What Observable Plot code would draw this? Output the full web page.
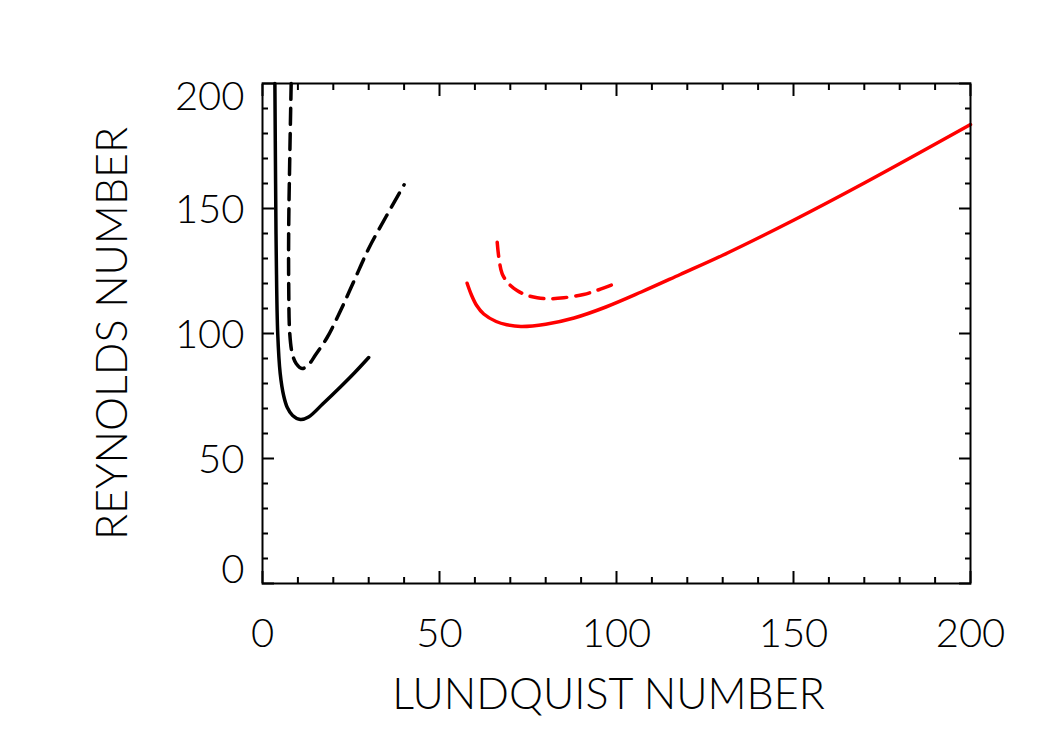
<!DOCTYPE html>
<html>
<head>
<meta charset="utf-8">
<script src="https://cdn.jsdelivr.net/npm/d3@7"></script>
<script src="https://cdn.jsdelivr.net/npm/@observablehq/plot@0.6"></script>
<style>
  html, body { margin: 0; padding: 0; background: #fff; }
  #chart svg { display: block; }
</style>
</head>
<body>
<div id="chart"></div>
<script>
// ---- data ----
const blackSolidX = [3.5, 3.7, 3.9, 4.3, 5.0, 6.0, 7.0, 8.5, 10.7, 13.0, 17.0, 22.0, 26.0, 30.0];
const blackSolidY = [200, 160, 130, 100, 84, 75, 70.4, 67.2, 65.6, 66.6, 71.8, 78.6, 84.3, 90.4];

const blackDashX = [8.1, 7.7, 7.4, 7.4, 7.7, 8.4, 9.5, 11.2, 13.0, 15.0, 18.3, 22.0, 26.0, 30.0, 35.0, 40.0];
const blackDashY = [200, 170, 142, 120, 100, 92, 88, 86, 87.5, 91.5, 98.5, 109, 121.5, 134, 147, 159.5];

const redSolidX = [57.8, 59.0, 60.5, 62.5, 66.0, 69.0, 73.0, 80.0, 88.0, 97.0, 107.0, 118.0, 130.0, 150.0, 170.0, 200.0];
const redSolidY = [120.1, 115.5, 111.2, 107.8, 104.8, 103.5, 102.8, 103.7, 106.2, 110.6, 116.6, 123.6, 131.3, 145.3, 160.2, 183.6];

const redDashX = [66.3, 66.8, 67.7, 69.5, 71.9, 74.5, 77.6, 81.0, 85.1, 90.7, 95.0, 98.8];
const redDashY = [136.5, 130, 123.9, 120, 117.2, 115.4, 114.3, 113.9, 114.3, 115.6, 117.5, 119.5];

const xMajor = [0, 50, 100, 150, 200];
const xMinor = [10, 20, 30, 40, 60, 70, 80, 90, 110, 120, 130, 140, 160, 170, 180, 190];
const yMajor = [0, 50, 100, 150, 200];
const yMinor = [10, 20, 30, 40, 60, 70, 80, 90, 110, 120, 130, 140, 160, 170, 180, 190];
const yLabelsMid = [50, 100, 150];
const yLabelTop = [200];
const yLabelBottom = [0];

const xTitle = "LUNDQUIST NUMBER";
const yTitle = "REYNOLDS NUMBER";

const toPts = (xs, ys) => xs.map((x, i) => ({x, y: ys[i]}));

const lineStyle = {x: "x", y: "y", strokeWidth: 3.5, curve: "catmull-rom", strokeLinejoin: "round"};

const tickAxes = [];
for (const anchor of ["bottom", "top"]) {
  tickAxes.push(Plot.axisX(xMajor, {anchor, tickSize: -12, fill: "none", label: null, strokeWidth: 2}));
  tickAxes.push(Plot.axisX(xMinor, {anchor, tickSize: -6, fill: "none", label: null, strokeWidth: 2}));
}
for (const anchor of ["left", "right"]) {
  tickAxes.push(Plot.axisY(yMajor, {anchor, tickSize: -12, fill: "none", label: null, strokeWidth: 2}));
  tickAxes.push(Plot.axisY(yMinor, {anchor, tickSize: -6, fill: "none", label: null, strokeWidth: 2}));
}

const chart = Plot.plot({
  width: 1050,
  height: 750,
  marginLeft: 262,
  marginRight: 80,
  marginTop: 83,
  marginBottom: 167,
  x: {domain: [0, 200]},
  y: {domain: [0, 200]},
  style: {fontFamily: "Lato, 'DejaVu Sans', sans-serif", fontSize: "40px", fontWeight: 300, color: "black", background: "white"},
  marks: [
    Plot.line(toPts(blackSolidX, blackSolidY), {...lineStyle, stroke: "black"}),
    Plot.line(toPts(blackDashX, blackDashY), {...lineStyle, stroke: "black", strokeDasharray: "16,9"}),
    Plot.line(toPts(redSolidX, redSolidY), {...lineStyle, stroke: "#ff0000"}),
    Plot.line(toPts(redDashX, redDashY), {...lineStyle, stroke: "#ff0000", strokeDasharray: "14,9"}),
    ...tickAxes,
    Plot.axisX(xMajor, {anchor: "bottom", tickSize: 0, tickPadding: 35, label: null}),
    Plot.axisY(yLabelsMid, {anchor: "left", tickSize: 0, tickPadding: 18, label: null, dy: 2}),
    Plot.axisY(yLabelTop, {anchor: "left", tickSize: 0, tickPadding: 18, label: null, dy: 14}),
    Plot.axisY(yLabelBottom, {anchor: "left", tickSize: 0, tickPadding: 18, label: null, dy: -13}),
    Plot.frame({stroke: "black", strokeWidth: 2}),
    Plot.text([xTitle], {frameAnchor: "bottom", dy: 95, dx: -8, lineAnchor: "top", textAnchor: "middle", fontSize: 43}),
    Plot.text([yTitle], {frameAnchor: "left", dx: -149, rotate: -90, textAnchor: "middle", lineAnchor: "middle", fontSize: 43})
  ]
});
document.getElementById("chart").appendChild(chart);
</script>
</body>
</html>
